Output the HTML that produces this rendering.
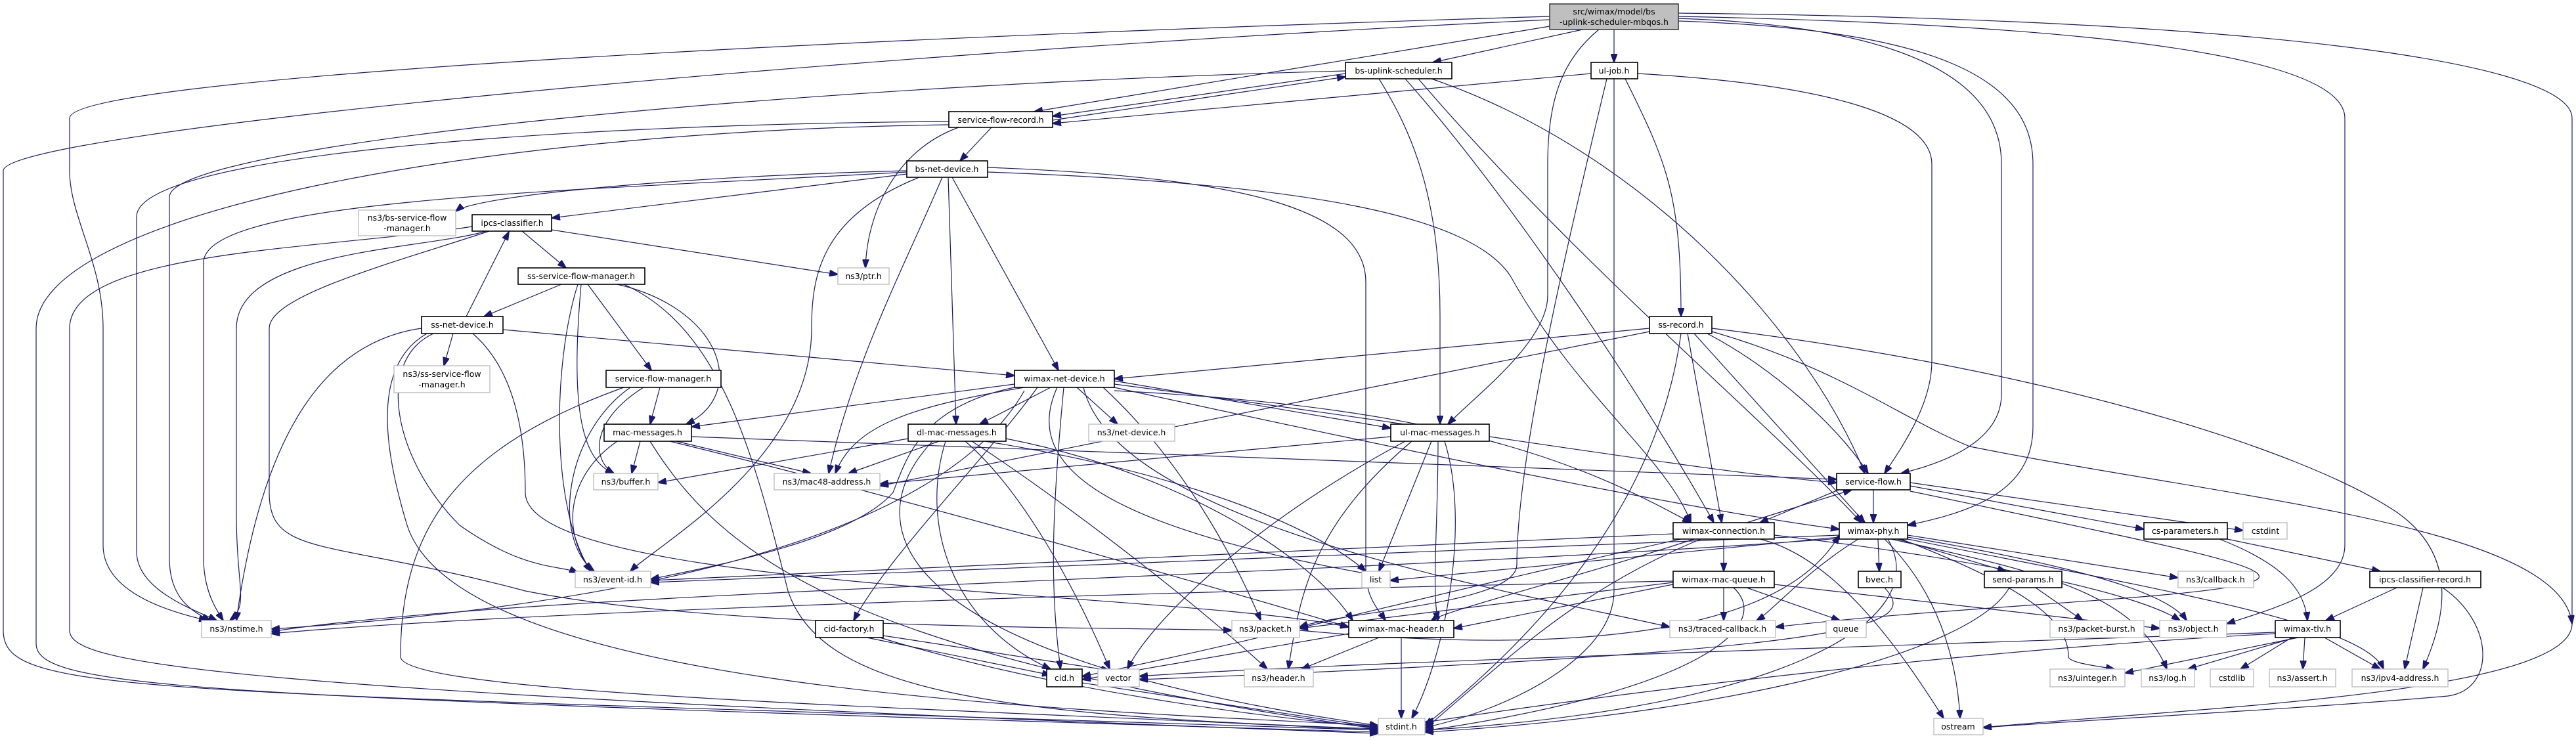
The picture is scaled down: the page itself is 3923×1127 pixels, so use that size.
<!DOCTYPE html>
<html><head><meta charset="utf-8"><style>
html,body{margin:0;padding:0;background:#fff}
svg{display:block}
text{font-family:"DejaVu Sans","Liberation Sans",sans-serif;font-size:12.5px;fill:#000;text-anchor:middle}
.e{fill:none;stroke:#191970;stroke-width:1.2}
.p{fill:#fff;stroke:#000;stroke-width:1.6}
.x{fill:#fff;stroke:#bfbfbf;stroke-width:1.4}
</style></head><body>
<svg width="3923" height="1127" viewBox="0 0 3923 1127" xmlns="http://www.w3.org/2000/svg">
<defs><marker id="a" markerUnits="userSpaceOnUse" markerWidth="14" markerHeight="10" refX="13" refY="5" orient="auto"><path d="M0,0 L14,5 L0,10 z" fill="#191970" stroke="#191970"/></marker></defs>
<g class="e" marker-end="url(#a)">
<!-- main -->
<path d="M2410,45 L2182,95"/>
<path d="M2458,45 L2458,95"/>
<path d="M2360,40 L1575,170"/>
<path d="M2435,45 C2380,90 2357,150 2357,250 L2357,450 C2357,520 2250,600 2205,646"/>
<path d="M2556,28 C2900,40 3048,120 3048,250 L3048,600 C3048,680 2940,710 2895,721"/>
<path d="M2556,32 C2950,45 3096,120 3096,250 L3096,650 C3096,750 3000,780 2905,800"/>
<path d="M2556,25 C3300,40 3571,100 3571,180 L3571,830 C3571,900 3450,930 3391,950"/>
<path d="M2556,20 C3500,30 3917,100 3917,180 L3917,950 C3917,1060 3300,1080 3020,1108"/>
<path d="M2360,25 C1200,60 106,120 106,180 L106,260 C106,330 157,400 157,500 L157,830 C157,900 250,930 316,945"/>
<path d="M2360,30 C1300,80 5,200 5,260 L5,960 C5,1060 200,1050 2099,1112"/>
<!-- bs-uplink-scheduler -->
<path d="M2049,112 L1603,177"/>
<path d="M1603,183 L2049,117"/>
<path d="M2100,120 C2150,200 2193,300 2193,480 L2193,646"/>
<path d="M2140,120 C2300,300 2500,600 2610,796"/>
<path d="M2160,120 C2400,400 2700,650 2835,796"/>
<path d="M2180,120 C2500,230 2750,500 2840,721"/>
<path d="M2049,108 C1200,130 258,220 258,300 L258,850 C258,910 290,930 320,945"/>
<!-- ul-job -->
<path d="M2423,112 L1603,188"/>
<path d="M2475,120 C2540,250 2560,300 2560,482"/>
<path d="M2494,112 C2800,130 2942,180 2942,250 L2942,550 C2942,620 2890,690 2870,721"/>
<path d="M2458,120 L2458,900 C2458,1000 2300,1080 2170,1108"/>
<path d="M2447,120 C2380,400 2310,700 2310,860 C2310,920 2050,930 1979,955"/>
<!-- service-flow-record -->
<path d="M1510,194 L1462,245"/>
<path d="M1460,194 C1360,230 1320,330 1318,408"/>
<path d="M1445,185 C800,190 208,240 208,330 L208,840 C208,900 300,930 330,945"/>
<path d="M1445,190 C700,200 55,330 55,500 L55,980 C55,1050 300,1060 2099,1115"/>
<!-- bs-net-device -->
<path d="M1381,265 L840,332"/>
<path d="M1381,260 C1000,270 720,300 694,322"/>
<path d="M1450,270 L1612,564"/>
<path d="M1444,270 L1456,646"/>
<path d="M1435,270 C1380,400 1300,550 1262,721"/>
<path d="M1400,270 C1250,330 1236,420 1236,500 C1236,700 1000,830 960,870"/>
<path d="M1504,262 C2000,280 2240,330 2300,420 C2400,600 2540,700 2575,796"/>
<path d="M1381,262 C900,290 310,300 310,400 L310,850 C310,900 330,930 340,945"/>
<path d="M1504,255 C1900,270 2080,320 2080,430 L2080,870 C2080,910 2100,930 2110,945"/>
<!-- ipcs-classifier -->
<path d="M795,352 L862,408"/>
<path d="M840,350 L1276,418"/>
<path d="M740,352 C650,380 360,380 360,500 L360,780 C360,900 380,920 350,945"/>
<path d="M719,345 C500,380 106,380 106,500 L106,960 C106,1010 300,1050 2099,1117"/>
<path d="M745,352 C600,400 410,450 410,500 L410,750 C410,850 500,820 800,900 C1100,960 1700,955 1876,960"/>
<!-- ss-service-flow-manager -->
<path d="M855,433 L737,482"/>
<path d="M895,433 L992,564"/>
<path d="M940,433 C1100,470 1140,600 1045,646"/>
<path d="M880,433 C840,560 840,780 900,870"/>
<path d="M885,433 C870,600 880,700 935,721"/>
<path d="M950,433 C1100,500 1150,700 1200,900 C1250,1050 1500,1090 2099,1110"/>
<!-- ss-net-device -->
<path d="M710,482 L775,353"/>
<path d="M690,508 L676,557"/>
<path d="M766,502 L1545,572"/>
<path d="M642,500 C500,520 400,650 360,945"/>
<path d="M660,508 C570,550 600,700 700,800 C800,870 850,860 880,872"/>
<path d="M720,508 C780,560 800,650 800,750 C800,900 1800,900 2054,955"/>
<path d="M650,508 C560,560 590,700 620,800 C700,1050 1600,1080 2099,1105"/>
<!-- service-flow-manager -->
<path d="M1005,590 L990,646"/>
<path d="M980,590 C900,640 900,700 935,721"/>
<path d="M960,590 C860,660 840,820 905,870"/>
<path d="M950,590 C700,680 610,800 610,1000 C610,1060 1500,1080 2099,1112"/>
<!-- wimax-net-device -->
<path d="M1545,585 L1053,650"/>
<path d="M1600,590 L1492,646"/>
<path d="M1640,590 L1702,646"/>
<path d="M1697,580 L2118,652"/>
<path d="M1560,590 C1380,620 1300,650 1272,721"/>
<path d="M1697,585 C2200,650 2600,720 2797,735"/>
<path d="M1697,590 C2200,700 2600,780 2801,806"/>
<path d="M1697,595 C2200,620 2400,700 2575,796"/>
<path d="M1545,590 C1400,620 1380,700 1360,750 C1300,820 1100,860 991,882"/>
<path d="M1560,595 C1500,700 1300,900 413,958"/>
<path d="M1580,590 C1500,700 1350,850 1300,945"/>
<path d="M1620,590 C1600,800 1600,900 1615,1019"/>
<path d="M1650,590 C1700,800 2300,900 2543,955"/>
<path d="M1680,590 C1800,700 1880,850 1920,945"/>
<path d="M1610,590 C1560,700 1650,800 2117,880"/>
<!-- mac-messages -->
<path d="M975,672 L962,721"/>
<path d="M1030,672 L1235,721"/>
<path d="M940,672 C870,720 850,800 900,870"/>
<path d="M990,672 C1100,850 1300,1000 2099,1110"/>
<path d="M1053,665 L2797,730"/>
<path d="M1020,672 C1300,740 1700,850 2054,955"/>
<!-- dl-mac-messages -->
<path d="M1383,668 L1002,735"/>
<path d="M1430,672 L1292,721"/>
<path d="M1500,672 C1800,720 2000,800 2080,870"/>
<path d="M1440,672 C1400,800 1450,950 1600,1019"/>
<path d="M1470,672 C1560,750 1640,900 1690,1019"/>
<path d="M1480,672 C1600,750 1800,900 1930,1019"/>
<path d="M1532,668 C1800,720 2000,850 2060,945"/>
<path d="M1420,672 C1300,800 1350,1000 2099,1105"/>
<!-- ul-mac-messages -->
<path d="M2118,665 L1340,737"/>
<path d="M2180,672 L2100,870"/>
<path d="M2150,672 C2000,800 1980,900 1962,1019"/>
<path d="M2140,672 C1900,800 1750,950 1717,1019"/>
<path d="M2200,672 C2240,800 2200,1000 2150,1094"/>
<path d="M2190,672 C2190,800 2180,900 2190,945"/>
<!-- ss-record -->
<path d="M2512,500 L1697,577"/>
<path d="M2512,505 L1340,740"/>
<path d="M2600,508 C2700,560 2800,650 2845,721"/>
<path d="M2580,508 L2840,796"/>
<path d="M2570,508 L2622,796"/>
<path d="M2560,508 C2520,800 2300,1000 2170,1105"/>
<path d="M2607,500 C3100,560 3500,680 3650,780 C3750,850 3720,950 3690,1019"/>
<path d="M2607,505 C2800,560 2900,640 3000,680 C3400,760 3900,800 3917,950"/>
<!-- service-flow -->
<path d="M2853,746 L2853,796"/>
<path d="M2800,746 L2680,796"/>
<path d="M2660,796 L2820,746"/>
<path d="M2909,740 L3265,806"/>
<path d="M2909,735 L3416,808"/>
<path d="M2909,748 C3300,830 3450,860 3440,880 C3420,910 3000,920 2704,955"/>
<!-- wimax-connection -->
<path d="M2625,821 L2625,870"/>
<path d="M2548,813 L991,884"/>
<path d="M2580,821 C2400,880 2200,930 2180,945"/>
<path d="M2590,821 C2400,900 2300,1000 2170,1110"/>
<path d="M2680,821 C2800,850 2900,1000 2960,1094"/>
<path d="M2702,815 C3000,850 3250,900 3320,945"/>
<path d="M2560,821 C2200,900 1900,980 1648,1030"/>
<!-- wimax-phy -->
<path d="M2860,821 L2862,870"/>
<path d="M2890,821 L3055,870"/>
<path d="M2905,815 L3317,880"/>
<path d="M2905,818 C3150,860 3300,900 3330,945"/>
<path d="M2880,821 C3100,870 3250,900 3300,1019"/>
<path d="M2830,821 C2750,870 2700,930 2675,945"/>
<path d="M2801,815 L991,887"/>
<path d="M2801,820 C2000,880 800,900 413,962"/>
<path d="M2801,818 L2117,884"/>
<path d="M2870,821 C2950,900 2980,1000 2985,1094"/>
<path d="M2875,821 C2950,950 2700,1080 2170,1112"/>
<path d="M2895,821 C3100,900 3150,950 3150,1000 C3150,1010 3200,1015 3220,1019"/>
<path d="M2905,821 C3300,900 3600,950 3630,1019"/>
<!-- cs-parameters / tlv / classifier-record -->
<path d="M3392,821 L3625,870"/>
<path d="M3380,821 C3480,860 3510,900 3514,945"/>
<path d="M3650,895 L3542,945"/>
<path d="M3690,895 L3662,1019"/>
<path d="M3720,895 C3800,950 3800,1050 3728,1060 C3500,1080 3200,1095 3020,1108"/>
<path d="M3500,971 L3236,1025"/>
<path d="M3495,971 L3332,1019"/>
<path d="M3490,971 L3412,1019"/>
<path d="M3510,971 L3507,1019"/>
<path d="M3540,971 L3625,1019"/>
<path d="M3465,965 C3000,990 2500,1050 2170,1100"/>
<path d="M3465,963 C3000,980 2000,1010 1735,1030"/>
<!-- wimax-mac-queue -->
<path d="M2625,895 L2625,945"/>
<path d="M2660,895 L2802,945"/>
<path d="M2548,890 L2214,957"/>
<path d="M2548,887 L1979,957"/>
<path d="M2548,885 C1800,900 800,930 413,965"/>
<path d="M2640,895 C2700,950 2600,1050 2170,1113"/>
<path d="M2702,890 L3289,957"/>
<!-- misc -->
<path d="M2870,895 C2920,950 2880,990 1735,1035"/>
<path d="M3100,895 L3172,945"/>
<path d="M3060,895 C3000,1000 2600,1090 2170,1115"/>
<path d="M2100,971 L1982,1019"/>
<path d="M2134,971 L2134,1094"/>
<path d="M2054,965 L1648,1035"/>
<path d="M1320,971 L1600,1028"/>
<path d="M1345,968 L1690,1021"/>
<path d="M1340,971 C1600,1050 1900,1090 2099,1108"/>
<path d="M1648,1040 L2099,1108"/>
<path d="M1979,960 C2300,990 2700,990 2801,815"/>
</g>
<!-- nodes -->
<rect x="2360" y="6" width="196" height="39" fill="#bfbfbf" stroke="#404040" stroke-width="1.6"/>
<text x="2458" y="22">src/wimax/model/bs</text><text x="2458" y="38">-uplink-scheduler-mbqos.h</text>
<rect class="p" x="2049" y="95" width="162" height="25"/><text x="2130" y="112">bs-uplink-scheduler.h</text>
<rect class="p" x="2423" y="95" width="71" height="25"/><text x="2458" y="112">ul-job.h</text>
<rect class="p" x="1445" y="170" width="158" height="24"/><text x="1524" y="187">service-flow-record.h</text>
<rect class="p" x="1381" y="245" width="123" height="25"/><text x="1442" y="262">bs-net-device.h</text>
<rect class="x" x="546" y="320" width="148" height="39"/><text x="620" y="336">ns3/bs-service-flow</text><text x="620" y="352">-manager.h</text>
<rect class="p" x="719" y="327" width="121" height="25"/><text x="780" y="344">ipcs-classifier.h</text>
<rect class="p" x="789" y="408" width="193" height="25"/><text x="885" y="425">ss-service-flow-manager.h</text>
<rect class="x" x="1276" y="408" width="78" height="25"/><text x="1315" y="425">ns3/ptr.h</text>
<rect class="p" x="642" y="482" width="124" height="26"/><text x="704" y="499">ss-net-device.h</text>
<rect class="p" x="2512" y="482" width="95" height="26"/><text x="2560" y="499">ss-record.h</text>
<rect class="x" x="600" y="557" width="146" height="41"/><text x="673" y="574">ns3/ss-service-flow</text><text x="673" y="590">-manager.h</text>
<rect class="p" x="923" y="564" width="175" height="26"/><text x="1010" y="581">service-flow-manager.h</text>
<rect class="p" x="1545" y="564" width="152" height="26"/><text x="1621" y="581">wimax-net-device.h</text>
<rect class="p" x="920" y="646" width="133" height="26"/><text x="986" y="663">mac-messages.h</text>
<rect class="p" x="1383" y="646" width="149" height="26"/><text x="1457" y="663">dl-mac-messages.h</text>
<rect class="x" x="1658" y="646" width="131" height="26"/><text x="1723" y="663">ns3/net-device.h</text>
<rect class="p" x="2118" y="646" width="150" height="26"/><text x="2193" y="663">ul-mac-messages.h</text>
<rect class="x" x="904" y="721" width="98" height="25"/><text x="953" y="738">ns3/buffer.h</text>
<rect class="x" x="1179" y="721" width="161" height="25"/><text x="1259" y="738">ns3/mac48-address.h</text>
<rect class="p" x="2797" y="721" width="112" height="25"/><text x="2853" y="738">service-flow.h</text>
<rect class="p" x="2548" y="796" width="154" height="25"/><text x="2625" y="813">wimax-connection.h</text>
<rect class="p" x="2801" y="796" width="104" height="25"/><text x="2853" y="813">wimax-phy.h</text>
<rect class="p" x="3265" y="796" width="127" height="25"/><text x="3328" y="813">cs-parameters.h</text>
<rect class="x" x="3416" y="796" width="67" height="25"/><text x="3450" y="813">cstdint</text>
<rect class="x" x="876" y="870" width="115" height="25"/><text x="933" y="887">ns3/event-id.h</text>
<rect class="x" x="2074" y="870" width="43" height="25"/><text x="2095" y="887">list</text>
<rect class="p" x="2548" y="870" width="154" height="25"/><text x="2625" y="887">wimax-mac-queue.h</text>
<rect class="p" x="2830" y="870" width="65" height="25"/><text x="2862" y="887">bvec.h</text>
<rect class="p" x="3022" y="870" width="118" height="25"/><text x="3081" y="887">send-params.h</text>
<rect class="x" x="3317" y="870" width="115" height="25"/><text x="3374" y="887">ns3/callback.h</text>
<rect class="p" x="3609" y="870" width="169" height="25"/><text x="3693" y="887">ipcs-classifier-record.h</text>
<rect class="x" x="307" y="945" width="106" height="26"/><text x="360" y="962">ns3/nstime.h</text>
<rect class="p" x="1242" y="945" width="103" height="26"/><text x="1293" y="962">cid-factory.h</text>
<rect class="x" x="1876" y="945" width="103" height="26"/><text x="1927" y="962">ns3/packet.h</text>
<rect class="p" x="2054" y="945" width="160" height="26"/><text x="2134" y="962">wimax-mac-header.h</text>
<rect class="x" x="2543" y="945" width="161" height="26"/><text x="2623" y="962">ns3/traced-callback.h</text>
<rect class="x" x="2781" y="945" width="61" height="26"/><text x="2811" y="962">queue</text>
<rect class="x" x="3122" y="945" width="143" height="26"/><text x="3193" y="962">ns3/packet-burst.h</text>
<rect class="x" x="3289" y="945" width="102" height="26"/><text x="3340" y="962">ns3/object.h</text>
<rect class="p" x="3465" y="945" width="99" height="26"/><text x="3514" y="962">wimax-tlv.h</text>
<rect class="p" x="1594" y="1019" width="54" height="27"/><text x="1621" y="1037">cid.h</text>
<rect class="x" x="1672" y="1019" width="63" height="27"/><text x="1703" y="1037">vector</text>
<rect class="x" x="1895" y="1019" width="105" height="27"/><text x="1947" y="1037">ns3/header.h</text>
<rect class="x" x="3122" y="1019" width="114" height="27"/><text x="3179" y="1037">ns3/uinteger.h</text>
<rect class="x" x="3261" y="1019" width="81" height="27"/><text x="3301" y="1037">ns3/log.h</text>
<rect class="x" x="3366" y="1019" width="66" height="27"/><text x="3399" y="1037">cstdlib</text>
<rect class="x" x="3456" y="1019" width="101" height="27"/><text x="3506" y="1037">ns3/assert.h</text>
<rect class="x" x="3582" y="1019" width="146" height="27"/><text x="3655" y="1037">ns3/ipv4-address.h</text>
<rect class="x" x="2099" y="1094" width="71" height="25"/><text x="2134" y="1111">stdint.h</text>
<rect class="x" x="2945" y="1094" width="75" height="25"/><text x="2982" y="1111">ostream</text>
</svg>
</body></html>
